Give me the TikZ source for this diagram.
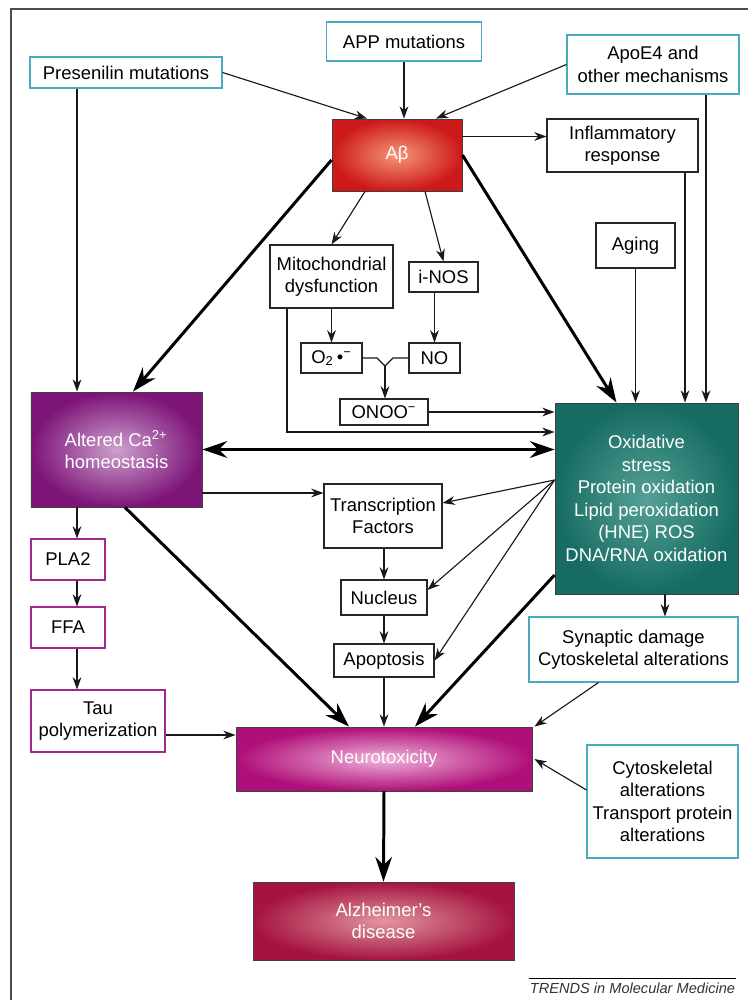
\documentclass[tikz,border=0pt]{standalone}
\usepackage{fontspec}
\setmainfont{Liberation Sans}
\usepackage{tikz}
\usetikzlibrary{arrows.meta}
\definecolor{cyanline}{RGB}{75,170,190}
\definecolor{plumline}{RGB}{160,40,140}
\definecolor{abred}{RGB}{205,25,25}
\definecolor{abpale}{RGB}{245,150,120}
\definecolor{capurple}{RGB}{125,20,120}
\definecolor{capale}{RGB}{205,160,205}
\definecolor{oxteal}{RGB}{22,108,98}
\definecolor{oxpale}{RGB}{85,160,150}
\definecolor{ntmag}{RGB}{175,15,120}
\definecolor{ntpale}{RGB}{240,180,220}
\definecolor{adred}{RGB}{165,20,65}
\definecolor{adpale}{RGB}{225,150,160}

\begin{document}
\begin{tikzpicture}[x=0.2mm,y=-0.2mm,
    every node/.style={font=\fontsize{10.5}{12.8}\selectfont,align=center,inner sep=0pt},
    bluebox/.style={draw=cyanline,line width=0.6pt,fill=white},
    blackbox/.style={draw=black!85,line width=0.6pt,fill=white},
    plumbox/.style={draw=plumline,line width=0.6pt,fill=white},
    glowbox/.style={draw=black!75,line width=0.5pt,text=white},
    lnk/.style={-{Stealth[length=7pt,width=5pt]},line width=0.65pt,black!90},
    bigarr/.style={-{Stealth[length=14pt,width=9.5pt]},line width=1.7pt}]
  \useasboundingbox (0,0) rectangle (748,1000);
  % the frame
  \draw[gray!60!black,line width=1.2pt] (11,1000) -- (11,9) -- (748,9);

  % causes at the top
  \node[bluebox,minimum width=38.4mm,minimum height=6.2mm] (pres) at (126,72.5) {Presenilin mutations};
  \node[bluebox,minimum width=31mm,minimum height=7.8mm] (app) at (404,41.5) {APP mutations};
  \node[bluebox,minimum width=34.4mm,minimum height=11.8mm] (apoe) at (653,64.5) {ApoE4 and\\other mechanisms};
  \node[glowbox,inner color=abpale,outer color=abred,minimum width=26mm,minimum height=14.4mm] (abeta) at (397,155) {Aβ};
  \node[blackbox,minimum width=30.2mm,minimum height=10.6mm] (inflam) at (622.5,145.5) {Inflammatory\\response};
  \node[blackbox,minimum width=15.8mm,minimum height=9mm] (aging) at (635.5,245.5) {Aging};

  % middle pathway
  \node[blackbox,minimum width=24.6mm,minimum height=12.6mm] (mito) at (331.5,276.5) {Mitochondrial\\dysfunction};
  \node[blackbox,minimum width=13.8mm,minimum height=6mm] (inos) at (443.5,277) {i-NOS};
  \node[blackbox,minimum width=12.2mm,minimum height=6mm] (otwo) at (331.5,358) {O\textsubscript{2}\,•\textsuperscript{−}};
  \node[blackbox,minimum width=10.2mm,minimum height=6mm] (no) at (434.5,358) {NO};
  \node[blackbox,minimum width=17.6mm,minimum height=5.2mm] (onoo) at (384,412) {ONOO\textsuperscript{−}};
  \node[blackbox,minimum width=23.6mm,minimum height=12.8mm] (tf) at (383,516) {Transcription\\Factors};
  \node[blackbox,minimum width=17.2mm,minimum height=7mm] (nucleus) at (384,597.5) {Nucleus};
  \node[blackbox,minimum width=20mm,minimum height=6.6mm] (apop) at (384,660.5) {Apoptosis};

  % big shaded boxes
  \node[glowbox,inner color=capale,outer color=capurple,minimum width=34.2mm,minimum height=23mm,align=left] (calc) at (116.5,449.5) {Altered Ca\textsuperscript{2+}\\homeostasis};
  \node[glowbox,inner color=oxpale,outer color=oxteal,minimum width=36.6mm,minimum height=38.2mm] (oxid) at (646.5,498.5) {Oxidative\\stress\\Protein oxidation\\Lipid peroxidation\\(HNE) ROS\\DNA/RNA oxidation};
  \node[glowbox,inner color=ntpale,outer color=ntmag,minimum width=59.2mm,minimum height=12.8mm] (neuro) at (384,759) {Neurotoxicity};
  \node[glowbox,inner color=adpale,outer color=adred,minimum width=52.2mm,minimum height=15.6mm] (ad) at (383.5,921) {Alzheimer’s\\disease};

  % left column
  \node[plumbox,minimum width=14.8mm,minimum height=8.2mm] (pla) at (68,559.5) {PLA2};
  \node[plumbox,minimum width=14.8mm,minimum height=8.2mm] (ffa) at (68,627.5) {FFA};
  \node[plumbox,minimum width=26.8mm,minimum height=12.4mm] (tau) at (98,721) {Tau\\polymerization};

  % right column
  \node[bluebox,minimum width=41.8mm,minimum height=13mm] (synap) at (633.5,649.5) {Synaptic damage\\Cytoskeletal alterations};
  \node[bluebox,minimum width=30.2mm,minimum height=22.6mm] (cyto) at (662.5,801.5) {Cytoskeletal\\alterations\\Transport protein\\alterations};

  % thin links
  \coordinate (inflamin) at ([yshift=1.8mm]inflam.west);
  \coordinate (fan) at ([yshift=3.7mm]oxid.west);
  \coordinate (jn) at (385,366);
  \draw[lnk] (pres.east) -- ([xshift=-6mm]abeta.north);
  \draw[lnk] (app.south) -- (app.south |- abeta.north);
  \draw[lnk] (apoe.west) -- ([xshift=7.8mm]abeta.north);
  \draw[lnk] (abeta.east |- inflamin) -- (inflamin);
  \draw[lnk] ([xshift=-9.8mm]pres.south) -- ([xshift=-9.8mm]pres.south |- calc.north);
  \draw[lnk] ([xshift=-6.4mm]abeta.south) -- (mito.north);
  \draw[lnk] ([xshift=5.6mm]abeta.south) -- (inos.north);
  \draw[lnk] (mito.south) -- (otwo.north);
  \draw[lnk] (no.north |- inos.south) -- (no.north);
  \draw[line width=0.65pt,black!90] (otwo.east) -- ([xshift=-1.6mm]jn |- otwo.east) -- (jn) -- ([xshift=1.6mm]jn |- no.west) -- (no.west);
  \draw[lnk] (jn) -- (jn |- onoo.north);
  \draw[lnk] (onoo.east) -- (onoo.east -| oxid.west);
  \draw[lnk] ([xshift=-8.9mm]mito.south) |- ([yshift=13.3mm]oxid.west);
  \draw[lnk] (aging.south) -- (aging.south |- oxid.north);
  \draw[lnk] ([xshift=12.5mm]inflam.south) -- ([xshift=12.5mm]inflam.south |- oxid.north);
  \draw[lnk] ([xshift=10.6mm]apoe.south) -- ([xshift=10.6mm]apoe.south |- oxid.north);
  \draw[lnk] ([yshift=-8.7mm]calc.east) -- ([yshift=-8.7mm]calc.east -| tf.west);
  \draw[lnk] (fan) -- ([yshift=2.6mm]tf.east);
  \draw[lnk] (fan) -- ([yshift=1.5mm]nucleus.east);
  \draw[lnk] (fan) -- (apop.east);
  \draw[lnk] (tf.south -| nucleus.north) -- (nucleus.north);
  \draw[lnk] (nucleus.south) -- (apop.north);
  \draw[lnk] (apop.south) -- (apop.south |- neuro.north);
  \draw[lnk] ([xshift=1.8mm]calc.south -| pla.north) -- ([xshift=1.8mm]pla.north);
  \draw[lnk] ([xshift=1.8mm]pla.south) -- ([xshift=1.8mm]ffa.north);
  \draw[lnk] ([xshift=1.8mm]ffa.south) -- ([xshift=1.8mm]ffa.south |- tau.north);
  \draw[lnk] ([yshift=-2.8mm]tau.east) -- ([yshift=-2.8mm]tau.east -| neuro.west);
  \draw[lnk] ([xshift=3.7mm]oxid.south) -- ([xshift=3.7mm]oxid.south |- synap.north);
  \draw[lnk] ([xshift=-7mm]synap.south) -- ([xshift=0.4mm]neuro.north east);
  \draw[lnk] ([yshift=2.3mm]cyto.west) -- ([xshift=0.4mm]neuro.east);

  % thick links
  \draw[bigarr] ([yshift=-1mm]abeta.west) -- ([xshift=3.3mm]calc.north);
  \draw[bigarr] (abeta.east) -- ([xshift=-6mm]oxid.north);
  \draw[bigarr,{Stealth[length=14pt,width=9.5pt]}-{Stealth[length=14pt,width=9.5pt]}] (calc.east) -- (calc.east -| oxid.west);
  \draw[bigarr] ([xshift=1.7mm]calc.south) -- ([xshift=-7mm]neuro.north);
  \draw[bigarr] ([yshift=-15.3mm]oxid.west) -- ([xshift=6.2mm]neuro.north);
  \draw[bigarr] (neuro.south) -- (ad.north);

  % credit line
  \draw[line width=0.5pt] (529,978) -- (736,978);
  \node[font=\fontsize{8.3}{10}\selectfont\itshape,text=black!80] (credit) at (632.5,988) {TRENDS in Molecular Medicine};
\end{tikzpicture}
\end{document}
